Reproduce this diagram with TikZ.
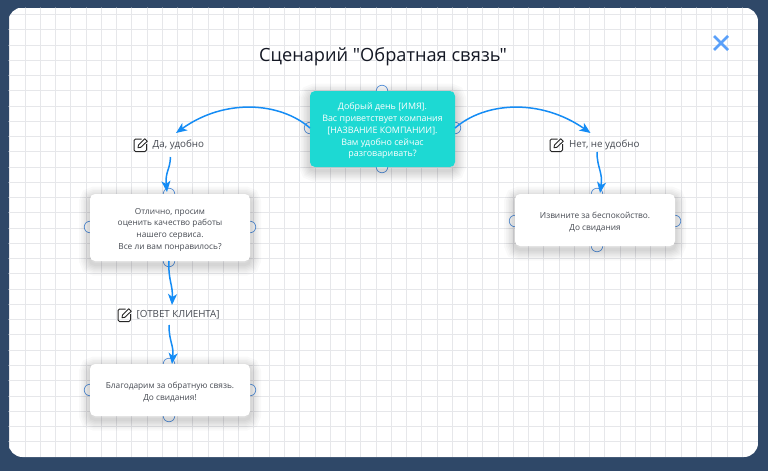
\documentclass[tikz,border=0pt]{standalone}
\usepackage{fontspec}
\setmainfont{Open Sans}
\newfontfamily\titlefont{Open Sans}
\usetikzlibrary{positioning}
\usetikzlibrary{calc}
\usetikzlibrary{arrows.meta}
\definecolor{navy}{RGB}{47, 72, 104}
\definecolor{gridline}{RGB}{230, 231, 234}
\definecolor{teal1}{RGB}{29, 217, 211}
\definecolor{flow}{RGB}{20, 140, 245}
\definecolor{port}{RGB}{90, 150, 225}
\definecolor{cross}{RGB}{90, 160, 250}
\definecolor{inktext}{RGB}{70, 74, 82}
\definecolor{titleink}{RGB}{20, 24, 36}
\tikzset{
	halo/.style={
		preaction={draw=black, draw opacity=0.024, line width=#1, transform canvas={yshift=-3.5pt}}
	},
}
\newcommand{\topstrut}{\rule{0pt}{10.5pt}}
\tikzstyle{card} = [
	halo=22pt, halo=18pt, halo=15pt, halo=12pt, halo=9pt, halo=6pt, halo=3pt,
	fill=white,
	rounded corners=5pt,
	align=center,
	font=\fontsize{8.3}{11.7}\selectfont,
	text=inktext,
	inner sep=0pt
]
\tikzstyle{startcard} = [
	card,
	fill=teal1,
	font=\fontsize{8.9}{11.9}\selectfont,
	text=white
]
\tikzstyle{answer} = [
	font=\fontsize{9.8}{12}\selectfont,
	text=inktext,
	inner sep=0pt
]
\tikzstyle{portdot} = [
	circle,
	draw=port,
	fill=white,
	line width=0.7pt,
	minimum size=11.5pt,
	inner sep=0pt
]
\tikzstyle{flowline} = [
	draw=flow,
	line width=1.5pt,
	-{Stealth[length=11pt,width=9pt,inset=3pt]}
]
\newcommand{\editicon}[1]{%
	\draw[line width=1pt, rounded corners=1.5pt, color=black!85] ($(#1)+(1,-6)$) -- ($(#1)+(-6.5,-6)$) -- ($(#1)+(-6.5,6.5)$) -- ($(#1)+(6,6.5)$) -- ($(#1)+(6,-1)$);
	\draw[line width=0.9pt, color=black!85, line join=round] ($(#1)+(-2.5,2.8)$) -- ($(#1)+(-2,0)$) -- ($(#1)+(4.3,-6.3)$) -- ($(#1)+(6.8,-3.8)$) -- ($(#1)+(0.3,2.3)$) -- cycle;
}
\begin{document}
\begin{tikzpicture}[x=1pt, y=-1pt]
	\useasboundingbox (0,0) rectangle (768,471);
	\fill[navy] (0,0) rectangle (768,471);
	
	% Sheet with grid
	\begin{scope}
		\clip[rounded corners=14pt] (8.5,7.5) rectangle (758,457);
		\fill[white] (8.5,7.5) rectangle (758,457);
		\foreach \i in {0,...,48} {
			\draw[gridline, line width=1pt] ({9.8+15.26*\i},7) -- ({9.8+15.26*\i},457);
		}
		\foreach \i in {0,...,29} {
			\draw[gridline, line width=1pt] (8,{14.5+15.26*\i}) -- (758,{14.5+15.26*\i});
		}
	\end{scope}
	
	% Title and close cross
	\node[font=\titlefont\fontsize{18.2}{22}\selectfont, text=titleink, inner sep=0pt] (title) at (383,57) {Сценарий "Обратная связь"};
	\draw[cross, line width=2.6pt] (714,36) -- (728,50) (728,36) -- (714,50);
	
	% Ports behind the cards
	\node[portdot] (s_n) at (382,91) {};
	\node[portdot] (s_s) at (382,167) {};
	\node[portdot] (s_w) at (310,128) {};
	\node[portdot] (s_e) at (455,128) {};
	\node[portdot] (a_n) at (169,194) {};
	\node[portdot] (a_s) at (169,261) {};
	\node[portdot] (a_w) at (90,227) {};
	\node[portdot] (a_e) at (250,227) {};
	\node[portdot] (t_n) at (169,364) {};
	\node[portdot] (t_s) at (169,416) {};
	\node[portdot] (t_w) at (90,390) {};
	\node[portdot] (t_e) at (250,390) {};
	\node[portdot] (n_n) at (597,194) {};
	\node[portdot] (n_s) at (597,246) {};
	\node[portdot] (n_w) at (515,221) {};
	\node[portdot] (n_e) at (675,221) {};
	
	% Cards
	\node[startcard, minimum width=145pt, minimum height=76pt] (start) at (382.5,129) {\topstrut Добрый день [ИМЯ].\\Вас приветствует компания\\[0pt][НАЗВАНИЕ КОМПАНИИ].\\Вам удобно сейчас\\разговаривать?};
	\node[card, minimum width=160pt, minimum height=67pt] (ask) at (170,227.5) {\topstrut Отлично, просим\\оценить качество работы\\нашего сервиса.\\Все ли вам понравилось?};
	\node[card, minimum width=160pt, minimum height=52pt] (thanks) at (170,390) {\topstrut Благодарим за обратную связь.\\До свидания!};
	\node[card, minimum width=160pt, minimum height=52pt] (sorry) at (595,220) {\topstrut Извините за беспокойство.\\До свидания};
	
	% Answers
	\node[answer, anchor=west] (yes) at (152.5,145) {Да, удобно};
	\node[answer, anchor=west] (no) at (569,145) {Нет, не удобно};
	\node[answer, anchor=west] (reply) at (136.5,315) {[ОТВЕТ КЛИЕНТА]};
	\editicon{140.5,145}
	\editicon{556.5,145}
	\editicon{124.5,315}
	
	% Free ends of the connectors
	\coordinate (yes_in) at (176,133);
	\coordinate (yes_out) at (170.5,157);
	\coordinate (no_in) at (590.5,133);
	\coordinate (no_out) at (597,152);
	\coordinate (reply_in) at (172,305);
	\coordinate (reply_out) at (169,325);
	
	% Connectors
	\draw[flowline] (s_w.center) .. controls (280,102) and (225,98) .. (yes_in);
	\draw[flowline] (s_e.center) .. controls (485,102) and (540,98) .. (no_in);
	\draw[flowline] (yes_out) .. controls (170,170) and (165,172) .. (167,192);
	\draw[flowline] (no_out) .. controls (597,168) and (603,172) .. (600,193);
	\draw[flowline] (a_s.center) .. controls (168,280) and (173,285) .. (reply_in);
	\draw[flowline] (reply_out) .. controls (169,342) and (174,345) .. (172,364);
	
\end{tikzpicture}
\end{document}
